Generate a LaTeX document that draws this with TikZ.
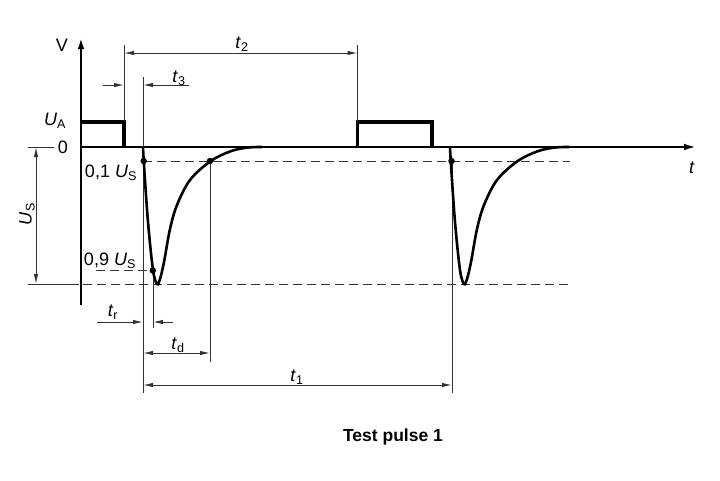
\documentclass[tikz,border=0pt]{standalone}
\usepackage{fontspec}
\setmainfont{Liberation Sans}
\usetikzlibrary{arrows.meta}
\newcommand{\tsub}[2]{\textit{#1}\textsubscript{#2}}
\begin{document}
\begin{tikzpicture}[x=1pt,y=-1pt,
  lbl/.style={font=\fontsize{18}{20}\selectfont, inner sep=0pt},
  thinln/.style={line width=1pt, black!80},
  dsh/.style={thinln, dash pattern=on 9pt off 5pt},
  dimarrow/.style={thinln, {Latex[length=10pt,width=4.5pt]}-{Latex[length=10pt,width=4.5pt]}},
  onearrow/.style={thinln, -{Latex[length=10pt,width=4.5pt]}},
  axisln/.style={line width=2.6pt, black},
  pulseln/.style={line width=3.6pt, black},
  curveln/.style={line width=2.6pt, black},
  dotn/.style={circle, fill=black, inner sep=0pt, minimum size=6.5pt}]
\useasboundingbox (0,0) rectangle (720,480);

% axes
\coordinate (Vbot) at (81,305);
\coordinate (Vtop) at (81,37);
\coordinate (O) at (81,147);
\coordinate (Tend) at (698,147);
\draw[axisln, -{Latex[length=12pt,width=6.5pt]}] (Vbot) -- (Vtop);
\draw[axisln, -{Latex[length=14pt,width=6.5pt]}] (O) -- (Tend);

% U_A pulses
\draw[pulseln, line join=miter] (81,122) -- (124,122) -- (124,147);
\draw[pulseln, line join=miter] (357.5,147) -- (357.5,122) -- (432,122) -- (432,147);

% dashed reference lines
\draw[dsh] (143,161) -- (570,161);
\draw[thinln] (28,284) -- (79,284);
\draw[dsh] (83,284) -- (570,284);
\draw[dsh] (96,270.5) -- (153,270.5);
\draw[thinln] (28,147) -- (54,147);

% extension lines
\coordinate (e2a) at (124,45);  \coordinate (e2b) at (124,122);
\coordinate (e2c) at (357.5,45); \coordinate (e2d) at (357.5,122);
\coordinate (e3a) at (143,77);  \coordinate (e3b) at (143,393);
\coordinate (eda) at (210,161); \coordinate (edb) at (210,362);
\coordinate (era) at (153,271); \coordinate (erb) at (153,328);
\coordinate (e1a) at (452,161); \coordinate (e1b) at (452,393);
\draw[thinln] (e2a) -- (e2b);
\draw[thinln] (e2c) -- (e2d);
\draw[thinln] (e3a) -- (e3b);
\draw[thinln] (eda) -- (edb);
\draw[thinln] (era) -- (erb);
\draw[thinln] (e1a) -- (e1b);

% pulses
\foreach \dx in {0,307}{
  \draw[curveln, xshift=\dx pt] plot[smooth, tension=0.55] coordinates {
    (143,147) (144,165) (148,222) (153,270) (157,284) (160,279) (164,262)
    (170,229) (177,205) (190,180) (210,161.5) (230,151.5) (247,147.6) (262,147)};
}

% dots
\node[dotn] (d1) at (143.7,161) {};
\node[dotn] (d2) at (210,161) {};
\node[dotn] (d3) at (152.8,270.5) {};
\node[dotn] (d4) at (451.5,161) {};

% dimensions
\coordinate (t2l) at (124,53); \coordinate (t2r) at (357.5,53);
\draw[dimarrow] (t2l) -- (t2r);
\coordinate (t3a) at (103,85); \coordinate (t3b) at (124,85);
\coordinate (t3c) at (189,85); \coordinate (t3d) at (143,85);
\draw[onearrow] (t3a) -- (t3b);
\draw[onearrow] (t3c) -- (t3d);
\coordinate (tra) at (97,322); \coordinate (trb) at (143,322);
\coordinate (trc) at (173,322); \coordinate (trd) at (153,322);
\draw[onearrow] (tra) -- (trb);
\draw[onearrow] (trc) -- (trd);
\coordinate (tdl) at (143,353); \coordinate (tdr) at (210,353);
\draw[dimarrow] (tdl) -- (tdr);
\coordinate (t1l) at (143,385); \coordinate (t1r) at (452,385);
\draw[dimarrow] (t1l) -- (t1r);
\coordinate (usa) at (36,147); \coordinate (usb) at (36,284);
\draw[dimarrow] (usa) -- (usb);

% labels
\node[lbl] (V) at (62,45) {V};
\node[lbl] (zero) at (63,147) {0};
\node[lbl] (UA) at (55,121) {\tsub{U}{A}};
\node[lbl] (u01) at (111,173) {0,1 \tsub{U}{S}};
\node[lbl] (u09) at (110,261) {0,9 \tsub{U}{S}};
\node[lbl] (US) at (27,214) [rotate=90] {\tsub{U}{S}};
\node[lbl] (tl) at (692,168) {\textit{t}};
\node[lbl] (t2) at (242,44) {\tsub{t}{2}};
\node[lbl] (t3) at (179,78) {\tsub{t}{3}};
\node[lbl] (tr) at (113,312) {\tsub{t}{r}};
\node[lbl] (td) at (178,345) {\tsub{t}{d}};
\node[lbl] (t1) at (297,377) {\tsub{t}{1}};
\node[font=\fontsize{17.5}{20}\selectfont\bfseries, inner sep=0pt] (cap) at (393,437) {Test pulse 1};
\end{tikzpicture}
\end{document}
